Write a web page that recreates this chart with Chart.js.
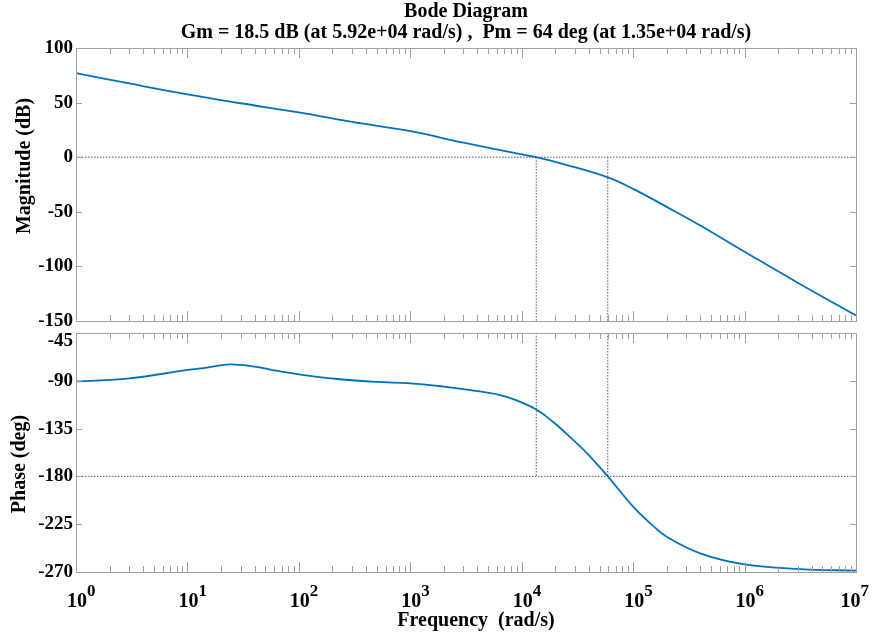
<!DOCTYPE html>
<html>
<head>
<meta charset="utf-8">
<script src="https://cdn.jsdelivr.net/npm/chart.js@4"></script>
<style>
body{margin:0;background:#fff;}
#wrap{position:relative;width:872px;height:641px;}
#wrap canvas{position:absolute;left:0;top:0;}
</style>
</head>
<body>
<div id="wrap">
<canvas id="magGraph" width="872" height="641"></canvas>
<canvas id="phaseGraph" width="872" height="641"></canvas>
</div>
<script>
// values
var magFreq=[1,3,10,30,100,300,1000,3000,1e4,1.35e4,2.5e4,5.92e4,1e5,2e5,4e5,1e6,3e6,1e7];
var magDb=[77,67.5,57.5,49.4,41,32.3,23.8,13.3,2.5,0,-7,-18.5,-29,-45.5,-62.5,-86.5,-115,-145];
var phaseFreq=[1,3,10,15,24,40,60,100,220,500,1000,2000,3450,6400,9000,1.35e4,1.93e4,2.5e4,3.84e4,5.92e4,1e5,1.42e5,2e5,4e5,1e6,3.2e6,1e7];
var phaseDeg=[-90.6,-87.7,-79.8,-77.5,-74.6,-76.7,-80.2,-84,-88.3,-91.1,-92.4,-95.5,-98.7,-103.4,-108.5,-117,-129,-139.5,-158,-180,-208.5,-224,-236.8,-252.4,-262.8,-267.2,-268.8];
var pmFreq=1.35e4;
var gmFreq=5.92e4;
var magRef=0;
var phaseRef=-180;
var xDecades=[0,1,2,3,4,5,6,7];
var magTicks=[-150,-100,-50,0,50,100];
var phaseTicks=[-270,-225,-180,-135,-90,-45];

var serif="'Liberation Serif','Times New Roman',serif";
var frameColor="#a0a0a0";

function xy(xs,ys){
	var out=[];
	for(var i=0;i<xs.length;i++){out.push({x:xs[i],y:ys[i]});}
	return out;
};

function $each(arr,fn){for(var i=0;i<arr.length;i++){fn(arr[i],i);}};

var bodeFrame={
	id:"bodeFrame",
	afterDraw:function(chart,args,opts){
		var ctx=chart.ctx;
		var a=chart.chartArea;
		var xs=chart.scales.x;
		var ys=chart.scales.y;
		ctx.save();
		ctx.strokeStyle=frameColor;
		ctx.lineWidth=1;
		ctx.strokeRect(Math.round(a.left)+0.5,Math.round(a.top)+0.5,Math.round(a.right-a.left),Math.round(a.bottom-a.top));
		ctx.beginPath();
		for(var d=0;d<7;d++){
			for(var k=1;k<10;k++){
				var px=Math.round(xs.getPixelForValue(k*Math.pow(10,d)))+0.5;
				var len=(k==1)?10:6;
				ctx.moveTo(px,a.top);ctx.lineTo(px,a.top+len);
				ctx.moveTo(px,a.bottom);ctx.lineTo(px,a.bottom-len);
			}
		}
		$each(ys.ticks,function(t){
			var py=Math.round(ys.getPixelForValue(t.value))+0.5;
			ctx.moveTo(a.left,py);ctx.lineTo(a.left+6,py);
			ctx.moveTo(a.right,py);ctx.lineTo(a.right-6,py);
		});
		ctx.stroke();
		ctx.fillStyle="#000";
		ctx.textAlign="center";
		ctx.textBaseline="middle";
		if(opts.top){
			ctx.font="bold 20px "+serif;
			ctx.fillText("Bode Diagram",466,12);
			ctx.fillText("Gm = 18.5 dB (at 5.92e+04 rad/s) ,  Pm = 64 deg (at 1.35e+04 rad/s)",466,33);
			ctx.save();
			ctx.translate(25,166);
			ctx.rotate(-Math.PI/2);
			ctx.fillText("Magnitude (dB)",0,0);
			ctx.restore();
		} else {
			ctx.font="bold 20px "+serif;
			ctx.save();
			ctx.translate(20,464);
			ctx.rotate(-Math.PI/2);
			ctx.fillText("Phase (deg)",0,0);
			ctx.restore();
			ctx.fillText("Frequency  (rad/s)",476,621);
			ctx.font="bold 19px "+serif;
			ctx.textAlign="right";
			ctx.fillText("-45",73,341);
			ctx.textBaseline="alphabetic";
			ctx.textAlign="left";
			$each(xDecades,function(e){
				var px=xs.getPixelForValue(Math.pow(10,e));
				ctx.font="bold 20px "+serif;
				var w=ctx.measureText("10").width;
				ctx.font="bold 17px "+serif;
				var we=ctx.measureText(String(e)).width;
				var left=px+1-w/2;
				if(left+w+we>869){left=869-w-we;}
				ctx.font="bold 20px "+serif;
				ctx.fillText("10",left,607);
				ctx.font="bold 17px "+serif;
				ctx.fillText(String(e),left+w,596);
			});
		}
		ctx.restore();
	}
};

function makeOptions(yMin,yMax,step,pad,isTop){
	return {
		responsive:false,
		animation:false,
		layout:{padding:pad},
		plugins:{legend:{display:false},tooltip:{enabled:false},bodeFrame:{top:isTop}},
		scales:{
			x:{type:"logarithmic",min:1,max:1e7,display:false},
			y:{
				min:yMin,max:yMax,
				grid:{display:false,drawTicks:false},
				border:{display:false},
				afterFit:function(s){s.width=76;},
				afterBuildTicks:function(s){s.ticks=(isTop?magTicks:phaseTicks).map(function(v){return {value:v};});},
				ticks:{
					stepSize:step,autoSkip:false,padding:3,color:"#000",
					font:{family:serif,size:19,weight:"bold"},
					callback:function(v){return v==-45?"":v;}
				}
			}
		}
	};
};

function curve(points){
	return {data:points,borderColor:"#0072BD",borderWidth:1.8,pointRadius:0,fill:false,tension:0.4};
};

function refLine(points){
	return {data:points,borderColor:"#555",borderWidth:1,borderDash:[1.5,1.5],pointRadius:0,fill:false,tension:0};
};

var magChart=new Chart(document.getElementById("magGraph").getContext("2d"),{
	type:"line",
	data:{datasets:[
		curve(xy(magFreq,magDb)),
		refLine([{x:1,y:magRef},{x:1e7,y:magRef}]),
		refLine([{x:pmFreq,y:magRef},{x:pmFreq,y:-150}]),
		refLine([{x:gmFreq,y:magRef},{x:gmFreq,y:-150}])
	]},
	options:makeOptions(-150,100,50,{left:0,right:16,top:48,bottom:320},true),
	plugins:[bodeFrame]
});

var phaseChart=new Chart(document.getElementById("phaseGraph").getContext("2d"),{
	type:"line",
	data:{datasets:[
		curve(xy(phaseFreq,phaseDeg)),
		refLine([{x:1,y:phaseRef},{x:1e7,y:phaseRef}]),
		refLine([{x:pmFreq,y:-45},{x:pmFreq,y:phaseRef}]),
		refLine([{x:gmFreq,y:-45},{x:gmFreq,y:phaseRef}])
	]},
	options:makeOptions(-270,-45,45,{left:0,right:16,top:333,bottom:69},false),
	plugins:[bodeFrame]
});
</script>
</body>
</html>
